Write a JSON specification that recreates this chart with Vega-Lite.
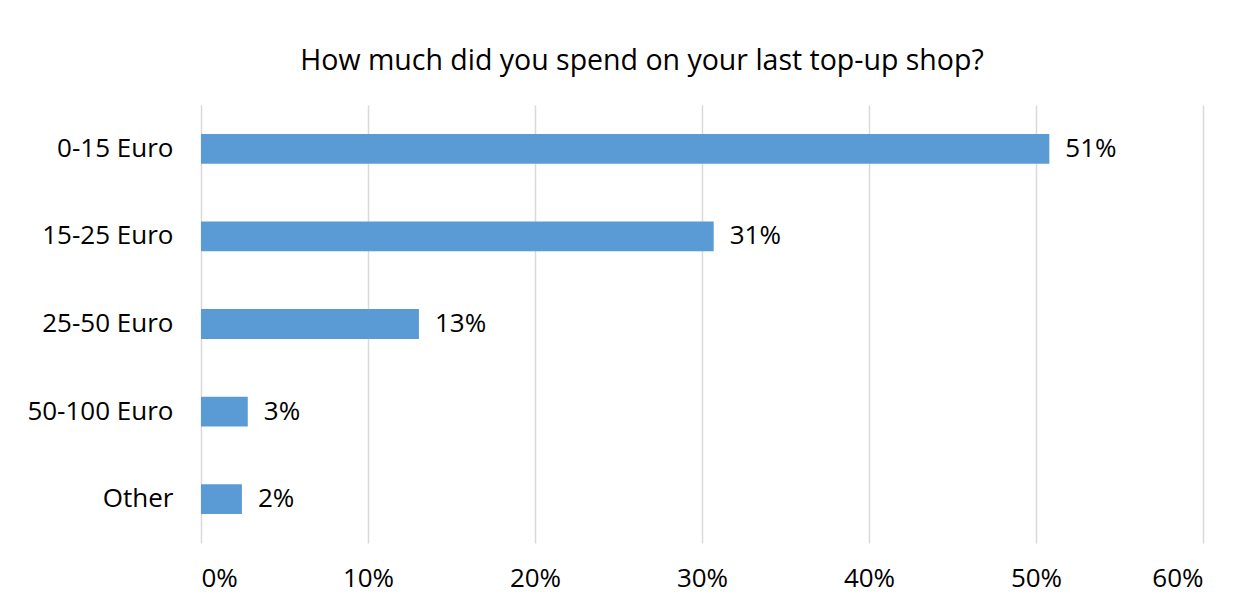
{
  "$schema": "https://vega.github.io/schema/vega-lite/v6.json",
  "autosize": {"type": "none"},
  "width": 1002,
  "height": 438,
  "padding": {"left": 201, "top": 105, "right": 42, "bottom": 65},
  "background": "white",
  "title": {
    "text": "How much did you spend on your last top-up shop?",
    "fontSize": 28.5,
    "font": "Open Sans",
    "fontWeight": "normal",
    "color": "#000000",
    "anchor": "middle",
    "dx": -60,
    "offset": 30
  },
  "data": {
    "values": [
      {"category": "0-15 Euro", "share": 0.508},
      {"category": "15-25 Euro", "share": 0.307},
      {"category": "25-50 Euro", "share": 0.1305},
      {"category": "50-100 Euro", "share": 0.028},
      {"category": "Other", "share": 0.0245}
    ]
  },
  "encoding": {
    "y": {
      "field": "category",
      "type": "nominal",
      "sort": null,
      "scale": {"paddingInner": 0.66, "paddingOuter": 0.33},
      "axis": {
        "title": null,
        "domain": false,
        "ticks": false,
        "labelFont": "Open Sans",
        "labelFontSize": 26,
        "labelColor": "#000000",
        "labelPadding": 28
      }
    },
    "x": {
      "field": "share",
      "type": "quantitative",
      "scale": {"domain": [0, 0.6], "nice": false},
      "axis": {
        "title": null,
        "format": ".0%",
        "values": [0, 0.1, 0.2, 0.3, 0.4, 0.5, 0.6],
        "domain": false,
        "ticks": false,
        "grid": true,
        "gridColor": "#D9D9D9",
        "gridWidth": 1.5,
        "labelFont": "Open Sans",
        "labelFontSize": 26,
        "labelColor": "#000000",
        "labelPadding": 22
      }
    }
  },
  "layer": [
    {"mark": {"type": "bar", "color": "#5B9BD5"}},
    {
      "mark": {"type": "text", "align": "left", "baseline": "middle", "dx": 16, "font": "Open Sans", "fontSize": 26, "color": "#000000"},
      "encoding": {"text": {"field": "share", "type": "quantitative", "format": ".0%"}}
    }
  ],
  "config": {"view": {"stroke": null}}
}
